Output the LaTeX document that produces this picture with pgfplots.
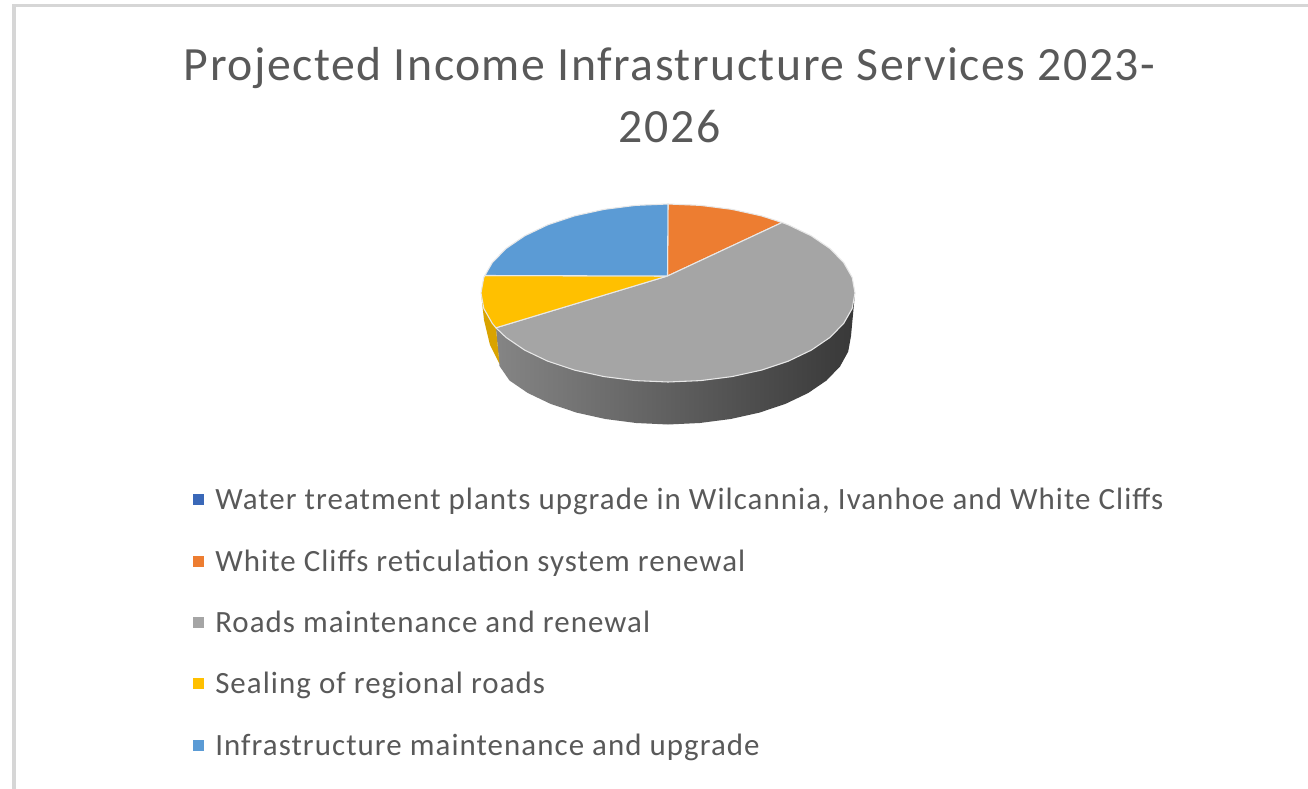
\documentclass[border=0pt]{standalone}
\usepackage{pgfplots}
\pgfplotsset{compat=1.18}
\usepackage{fontspec}
\setmainfont{Carlito}
\newfontfamily\titlefont[LetterSpace=3.2]{Carlito}
\newfontfamily\legendfont[LetterSpace=3.4]{Carlito}
\definecolor{labelgrey}{HTML}{595959}
\definecolor{waterblue}{HTML}{3A68B8}
\definecolor{cliffsorange}{HTML}{ED7D31}
\definecolor{roadsgrey}{HTML}{A5A5A5}
\definecolor{sealyellow}{HTML}{FFC000}
\definecolor{infrablue}{HTML}{5B9BD5}
\definecolor{framegrey}{HTML}{D6D6D6}
\definecolor{sliceedge}{HTML}{E8E8E8}
\newcommand{\legendentry}[2]{\node[anchor=base west,text=labelgrey,font=\legendfont\fontsize{23.2}{27}\selectfont,inner sep=0pt] at (axis cs:215,#1) {#2};}
\begin{document}
\begin{tikzpicture}
\begin{axis}[
  width=981pt, height=591.75pt, scale only axis,
  xmin=0, xmax=1308, ymin=0, ymax=789, y dir=reverse,
  axis lines=none, clip=true,
]
% white sheet behind the chart
\addplot[draw=none, fill=white] coordinates {(0,0) (1308,0) (1308,789) (0,789) (0,0)};
% chart frame
\addplot[framegrey, line width=2.8pt] coordinates {(14,789) (14,5.5) (1308,5.5)};

% side wall of the roads slice, dark towards the right
\addplot[draw=none, left color=black!48, middle color=black!58, right color=black!78] coordinates {
 (495.9,327.8) (506.1,337.5) (524.8,350.2) (547.8,361.2) (574.5,370.1) (604,376.6) (635.5,380.6) (668,382)
 (700.5,380.6) (732,376.6) (761.5,370.1) (788.2,361.2) (811.2,350.2) (829.9,337.5) (843.7,323.4) (852.2,308.5) (855,293)
 (851,336) (848.2,351.6) (840,366.5) (826.5,380.5) (808.2,393) (785.6,403.8) (759.5,412.6) (730.6,419) (699.8,423)
 (668,424.5) (636.2,423) (605.4,419) (576.5,412.6) (550.4,403.8) (527.8,393) (509.5,380.5) (499.5,366) (495.9,327.8)
};
% side wall of the sealing slice
\addplot[draw=none, fill=sealyellow!85!black] coordinates {
 (481,293) (483.8,308.5) (492.3,323.4) (495.9,327.8) (499.5,364) (490,345) (484,320) (481,293)
};

% top faces
\addplot[draw=sliceedge, line width=0.8pt, fill=cliffsorange] coordinates {
 (667.5,276) (668,204) (700.5,205.4) (732,209.4) (761.5,215.9) (782,222.5) (667.5,276)
};
\addplot[draw=sliceedge, line width=0.8pt, fill=roadsgrey] coordinates {
 (667.5,276) (782,222.5) (788.2,224.8) (811.2,235.8) (829.9,248.5) (843.7,262.6) (852.2,277.5) (855,293)
 (852.2,308.5) (843.7,323.4) (829.9,337.5) (811.2,350.2) (788.2,361.2) (761.5,370.1) (732,376.6) (700.5,380.6)
 (668,382) (635.5,380.6) (604,376.6) (574.5,370.1) (547.8,361.2) (524.8,350.2) (506.1,337.5) (495.9,327.8) (667.5,276)
};
\addplot[draw=sliceedge, line width=0.8pt, fill=sealyellow] coordinates {
 (667.5,276) (495.9,327.8) (492.3,323.4) (483.8,308.5) (481,293) (483.8,277.5) (484.9,275.5) (667.5,276)
};
\addplot[draw=sliceedge, line width=0.8pt, fill=infrablue] coordinates {
 (667.5,276) (484.9,275.5) (492.3,262.6) (506.1,248.5) (524.8,235.8) (547.8,224.8) (574.5,215.9) (604,209.4) (635.5,205.4) (668,204) (667.5,276)
};

% legend markers
\addplot[only marks, mark=square*, mark size=3.75pt, waterblue] coordinates {(198,499)};
\addplot[only marks, mark=square*, mark size=3.75pt, cliffsorange] coordinates {(198,561)};
\addplot[only marks, mark=square*, mark size=3.75pt, roadsgrey] coordinates {(198,622)};
\addplot[only marks, mark=square*, mark size=3.75pt, sealyellow] coordinates {(198,683)};
\addplot[only marks, mark=square*, mark size=3.75pt, infrablue] coordinates {(198,745)};

% title
\node[anchor=base,text=labelgrey,font=\titlefont\fontsize{35.8}{40}\selectfont,inner sep=0pt] at (axis cs:669.5,80.5) {Projected Income Infrastructure Services 2023-};
\node[anchor=base,text=labelgrey,font=\titlefont\fontsize{35.8}{40}\selectfont,inner sep=0pt] at (axis cs:669.5,142) {2026};

% legend texts
\legendentry{509}{Water treatment plants upgrade in Wilcannia, Ivanhoe and White Cliffs}
\legendentry{571}{White Cliffs reticulation system renewal}
\legendentry{632}{Roads maintenance and renewal}
\legendentry{693}{Sealing of regional roads}
\legendentry{755}{Infrastructure maintenance and upgrade}
\end{axis}
\end{tikzpicture}
\end{document}
